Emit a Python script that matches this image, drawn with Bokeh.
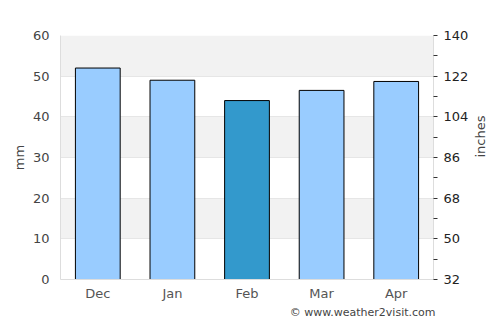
import math
from bokeh.plotting import figure
from bokeh.models import Range1d, LinearAxis, FixedTicker, Title, ColumnDataSource
from bokeh.embed import file_html
from bokeh.resources import INLINE

months = ["Dec", "Jan", "Feb", "Mar", "Apr"]
rain_mm = [52.0, 49.0, 44.0, 46.5, 48.7]
colors = ["#99ccff", "#99ccff", "#3399cc", "#99ccff", "#99ccff"]
left_ticks = [0, 10, 20, 30, 40, 50, 60]
right_ticks = [32, 50, 68, 86, 104, 122, 140]
right_minor = [41, 59, 77, 95, 113, 131]

src = ColumnDataSource(dict(m=months, v=rain_mm, c=colors))

FONT = "DejaVu Sans"
p = figure(x_range=months, y_range=Range1d(0, 60), width=500, height=325,
           output_backend="svg", toolbar_location=None,
           min_border_left=60, min_border_right=67, min_border_top=35, min_border_bottom=0)
p.extra_y_ranges = {"r": Range1d(32, 140)}

p.vbar(x="m", top="v", width=0.6, source=src, fill_color="c", line_color="black", line_width=1)

p.outline_line_color = None
p.background_fill_color = "white"
p.xgrid.grid_line_color = None
p.ygrid.ticker = FixedTicker(ticks=left_ticks)
p.ygrid.grid_line_color = "#e6e6e6"
p.ygrid.band_fill_color = "#f2f2f2"
p.ygrid.band_fill_alpha = 1.0

ya = p.yaxis[0]
ya.ticker = FixedTicker(ticks=left_ticks)
ya.axis_line_color = "#dddddd"
ya.major_tick_line_color = None
ya.minor_tick_line_color = None
ya.major_label_text_font = FONT
ya.major_label_text_font_size = "13px"
ya.major_label_text_color = "#444444"
ya.axis_label = "mm"
ya.axis_label_standoff = 3
ya.axis_label_text_font = FONT
ya.axis_label_text_font_size = "13px"
ya.axis_label_text_font_style = "normal"
ya.axis_label_text_color = "#444444"
ya.major_label_standoff = 5

xa = p.xaxis[0]
xa.axis_line_color = "#dddddd"
xa.major_tick_line_color = None
xa.minor_tick_line_color = None
xa.major_label_text_font = FONT
xa.major_label_text_font_size = "13px"
xa.major_label_text_color = "#555555"
xa.major_label_standoff = 0

ra = LinearAxis(y_range_name="r", ticker=FixedTicker(ticks=right_ticks, minor_ticks=right_minor))
ra.axis_line_color = "#dddddd"
ra.major_tick_line_color = "#333333"
ra.minor_tick_line_color = "#333333"
ra.major_tick_out = 4
ra.major_tick_in = 0
ra.minor_tick_out = 4
ra.minor_tick_in = 0
ra.major_label_text_font = FONT
ra.major_label_text_font_size = "13px"
ra.major_label_text_color = "#222222"
ra.major_label_standoff = 6
ra.axis_label = "inches"
ra.axis_label_orientation = math.pi / 2
ra.axis_label_standoff = 9
ra.axis_label_text_font = FONT
ra.axis_label_text_font_size = "13px"
ra.axis_label_text_font_style = "normal"
ra.axis_label_text_color = "#444444"
p.add_layout(ra, "right")

t = Title(text="\u00a9 www.weather2visit.com", align="right", text_font=FONT,
          text_font_size="11px", text_font_style="normal", text_color="#444444",
          standoff=0, offset=-2)
p.add_layout(t, "below")
pad = Title(text=" ", text_font_size="4px", standoff=0)
p.add_layout(pad, "below")

open("out.html", "w").write(file_html(p, INLINE))
